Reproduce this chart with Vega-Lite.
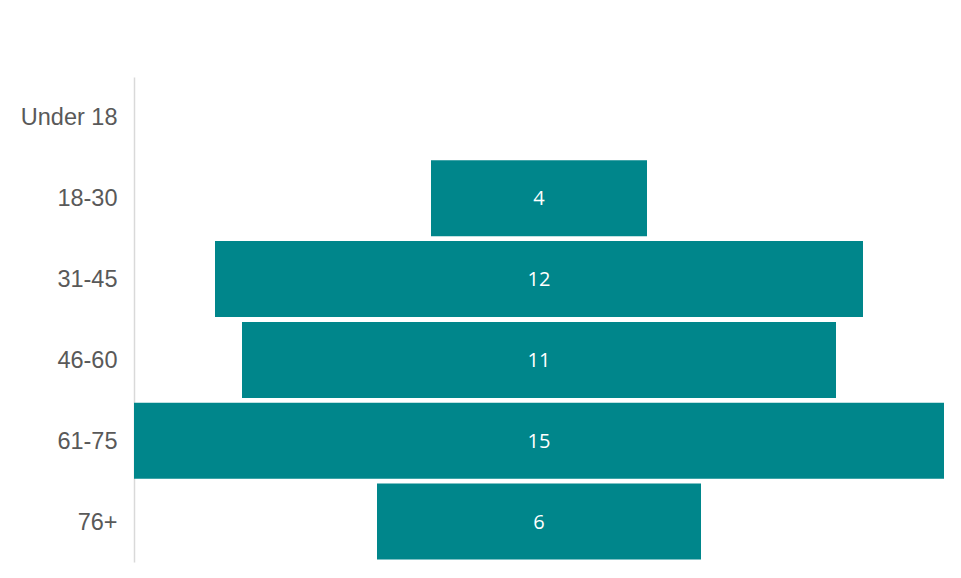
{
  "$schema": "https://vega.github.io/schema/vega-lite/v6.json",
  "width": 810,
  "height": 485,
  "autosize": {"type": "none"},
  "padding": {"left": 134, "top": 77, "right": 17, "bottom": 16},
  "background": "white",
  "config": {"view": {"stroke": null}},
  "data": {
    "values": [
      {"age": "Under 18", "count": 0},
      {"age": "18-30", "count": 4},
      {"age": "31-45", "count": 12},
      {"age": "46-60", "count": 11},
      {"age": "61-75", "count": 15},
      {"age": "76+", "count": 6}
    ]
  },
  "encoding": {
    "y": {
      "field": "age",
      "type": "nominal",
      "sort": null,
      "scale": {"paddingInner": 0.06, "paddingOuter": 0.03},
      "axis": {
        "title": null,
        "ticks": false,
        "domain": true,
        "domainColor": "#d9d9d9",
        "domainWidth": 1.5,
        "labelFont": "Liberation Sans",
        "labelFontSize": 23.5,
        "labelColor": "#595959",
        "labelPadding": 17,
        "labelOffset": 1,
        "grid": false
      }
    }
  },
  "layer": [
    {
      "mark": {"type": "bar", "color": "#00868B"},
      "encoding": {
        "x": {
          "field": "count",
          "type": "quantitative",
          "stack": "center",
          "scale": {"domain": [0, 15], "nice": false},
          "axis": null
        }
      }
    },
    {
      "transform": [{"filter": "datum.count > 0"}],
      "mark": {"type": "text", "color": "white", "font": "Open Sans", "fontSize": 20, "align": "center", "baseline": "middle", "dy": 1},
      "encoding": {
        "x": {"datum": 7.5, "type": "quantitative"},
        "text": {"field": "count", "type": "quantitative"}
      }
    }
  ]
}
